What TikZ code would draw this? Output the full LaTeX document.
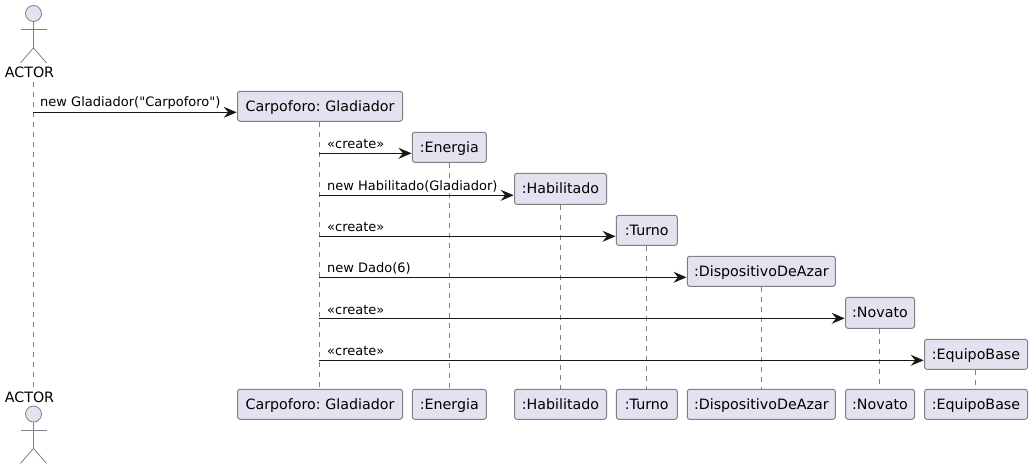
\documentclass[tikz,border=0pt]{standalone}
\usepackage{fontspec}
\newfontfamily\umlfont{DejaVu Sans}
\usetikzlibrary{arrows.meta}
\definecolor{boxfill}{HTML}{E2E2F0}
\definecolor{boxline}{HTML}{808084}
\definecolor{msgline}{HTML}{181818}
\tikzset{
  part/.style 2 args={draw=boxline,fill=boxfill,line width=1pt,rounded corners=2.5pt,
    minimum width=#1,minimum height=#2,inner sep=0pt,text height=11.5pt,text depth=1.5pt,
    font=\umlfont\frenchspacing\fontsize{14.25}{16}\selectfont,text=black},
  life/.style={draw=boxline,line width=.8pt,dash pattern=on 5pt off 5pt},
  msg/.style={draw=msgline,line width=1pt,-{Stealth[length=13pt,width=11pt,inset=4.5pt]}},
  msglabel/.style={anchor=base west,inner sep=0pt,font=\umlfont\frenchspacing\fontsize{13}{15}\selectfont,text=black},
  actorbody/.style={draw=boxline,line width=.8pt},
  actorhead/.style={draw=boxline,fill=boxfill,line width=.8pt,circle,minimum size=16pt,inner sep=0pt},
  actorname/.style={inner sep=0pt,font=\umlfont\fontsize{14.25}{16}\selectfont,text=black,anchor=base}
}
\newcommand{\actorfig}[1]{%
  \draw[actorbody] (#1.south) -- ++(0,26) -- ++(-13,15);
  \draw[actorbody] (#1.south) ++(0,26) -- ++(13,15);
  \draw[actorbody] (#1.south) ++(-13,8) -- ++(26,0);
}
\begin{document}
\begin{tikzpicture}[x=1pt,y=-1pt]
\useasboundingbox (0,0) rectangle (1032,470);
% actors
\node[actorhead] (headT) at (33.5,13.5) {};
\node[actorname] (actT) at (29.5,78) {ACTOR};
\node[actorhead] (headB) at (33.5,414) {};
\node[actorname] (actB) at (29.5,402) {ACTOR};
\actorfig{headT}
\actorfig{headB}
% participants, top
\node[part={165pt}{30pt}] (carpT) at (320,106.3) {Carpoforo: Gladiador};
\node[part={74pt}{30pt}]  (enT)   at (449.3,147.3) {:Energia};
\node[part={92pt}{31pt}]  (habT)  at (560.5,188.8) {:Habilitado};
\node[part={61pt}{30pt}]  (turT)  at (646.8,230.3) {:Turno};
\node[part={148pt}{30pt}] (disT)  at (761.3,271.3) {:DispositivoDeAzar};
\node[part={69pt}{31pt}]  (novT)  at (880,312.8) {:Novato};
\node[part={103pt}{30pt}] (equT)  at (976,354.3) {:EquipoBase};
% participants, bottom
\node[part={165pt}{30pt}] (carpB) at (320,404.3) {Carpoforo: Gladiador};
\node[part={74pt}{30pt}]  (enB)   at (449.3,404.3) {:Energia};
\node[part={92pt}{30pt}]  (habB)  at (560.5,404.3) {:Habilitado};
\node[part={61pt}{30pt}]  (turB)  at (646.8,404.3) {:Turno};
\node[part={148pt}{30pt}] (disB)  at (761.3,404.3) {:DispositivoDeAzar};
\node[part={69pt}{30pt}]  (novB)  at (880,404.3) {:Novato};
\node[part={103pt}{30pt}] (equB)  at (976,404.3) {:EquipoBase};
% lifelines
\coordinate (actTop) at (33.3,82);
\coordinate (actBot) at (33.3,387);
\draw[life] (actTop) -- (actBot);
\draw[life] ([xshift=-.7pt]carpT.south) -- ([xshift=-.7pt]carpB.north);
\draw[life] (enT.south) -- (enB.north);
\draw[life] ([xshift=-.2pt]habT.south) -- ([xshift=-.2pt]habB.north);
\draw[life] ([xshift=-.5pt]turT.south) -- ([xshift=-.5pt]turB.north);
\draw[life] ([xshift=.4pt]disT.south) -- ([xshift=.4pt]disB.north);
\draw[life] ([xshift=-.7pt]novT.south) -- ([xshift=-.7pt]novB.north);
\draw[life] ([xshift=-.7pt]equT.south) -- ([xshift=-.7pt]equB.north);
% message levels
\coordinate (m1) at (0,112.3);
\coordinate (m2) at (0,153.3);
\coordinate (m3) at (0,195.3);
\coordinate (m4) at (0,236.3);
\coordinate (m5) at (0,277.3);
\coordinate (m6) at (0,318.3);
\coordinate (m7) at (0,360.3);
\coordinate (s) at (319.3,0);
% messages
\draw[msg] (actTop |- m1) -- ([xshift=-.3pt]carpT.west |- m1);
\draw[msg] (s |- m2) -- ([xshift=-.3pt]enT.west |- m2);
\draw[msg] (s |- m3) -- ([xshift=-.3pt]habT.west |- m3);
\draw[msg] (s |- m4) -- ([xshift=-.3pt]turT.west |- m4);
\draw[msg] (s |- m5) -- ([xshift=-.3pt]disT.west |- m5);
\draw[msg] (s |- m6) -- ([xshift=-.3pt]novT.west |- m6);
\draw[msg] (s |- m7) -- ([xshift=-.3pt]equT.west |- m7);
% labels
\node[msglabel] (l1) at (40,107) {new Gladiador("Carpoforo")};
\node[msglabel] (l2) at (327,149) {«create»};
\node[msglabel] (l3) at (327,190.5) {new Habilitado(Gladiador)};
\node[msglabel] (l4) at (327,231) {«create»};
\node[msglabel] (l5) at (327,272.8) {new Dado(6)};
\node[msglabel] (l6) at (327,314) {«create»};
\node[msglabel] (l7) at (327,355) {«create»};
\end{tikzpicture}
\end{document}
